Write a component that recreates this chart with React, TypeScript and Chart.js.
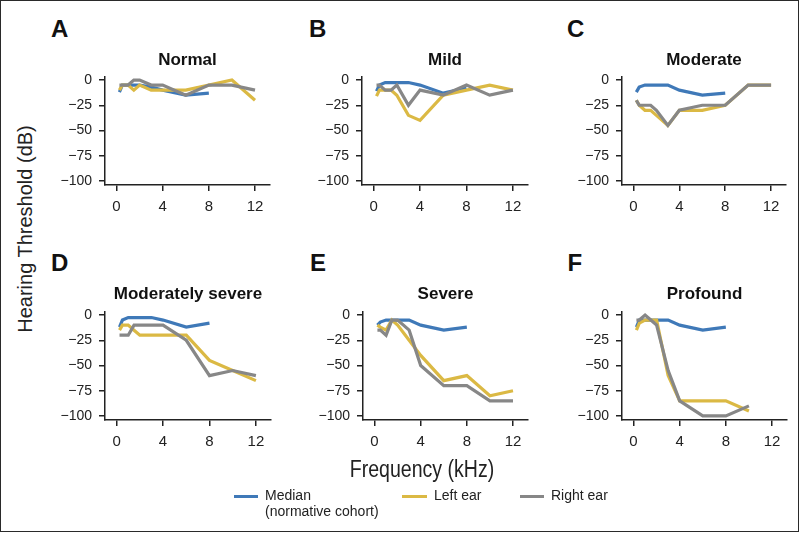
import React, { useEffect, useRef } from "react";
import { Chart, registerables } from "chart.js";

Chart.register(...registerables);

// ---- data ----
const FREQ = [0.25, 0.5, 1, 1.5, 2, 3, 4, 6, 8, 10, 12];
const MEDIAN_FREQ = [0.25, 0.5, 1, 2, 3, 4, 6, 8];
const X_TICKS = [0, 4, 8, 12];
const Y_TICKS = [0, -25, -50, -75, -100];

const PANEL_LETTERS = ["A", "B", "C", "D", "E", "F"];
const PANEL_TITLES = ["Normal", "Mild", "Moderate", "Moderately severe", "Severe", "Profound"];

const normalMedian = [-12, -5, -5, -5, -7, -10, -15, -13];
const normalLeft = [-10, -5, -5, -10, -5, -10, -10, -10, -5, 0, -20];
const normalRight = [-5, -5, -5, 0, 0, -5, -5, -15, -5, -5, -10];

const mildMedian = [-11, -5, -2.5, -2.5, -2.5, -5, -13, -8];
const mildLeft = [-16, -10, -10, -10, -15, -35, -40, -15, -10, -5, -10];
const mildRight = [-5, -5, -10, -10, -5, -25, -10, -15, -5, -15, -10];

const moderateMedian = [-12, -7, -5, -5, -5, -10, -15, -13];
const moderateLeft = [-20, -25, -30, -30, -35, -45, -30, -30, -25, -5, -5];
const moderateRight = [-20, -25, -25, -25, -30, -45, -30, -25, -25, -5, -5];

const modSevereMedian = [-12, -5, -2.5, -2.5, -2.5, -5, -12, -8];
const modSevereLeft = [-15, -10, -10, -15, -20, -20, -20, -20, -45, -55, -65];
const modSevereRight = [-20, -20, -20, -10, -10, -10, -10, -25, -60, -55, -60];

const severeMedian = [-10, -7, -5, -5, -5, -10, -15, -12];
const severeLeft = [-10, -12, -15, -5, -10, -25, -40, -65, -60, -80, -75];
const severeRight = [-15, -15, -20, -5, -5, -15, -50, -70, -70, -85, -85];

const profoundMedian = [-12, -5, -5, -5, -5, -10, -15, -12];
const profoundLeft = [-15, -8, -5, -5, -5, -60, -85, -85, -85, -95, null];
const profoundRight = [-5, -5, 0, -5, -10, -55, -85, -100, -100, -90, null];

const MEDIANS = [normalMedian, mildMedian, moderateMedian, modSevereMedian, severeMedian, profoundMedian];
const LEFTS = [normalLeft, mildLeft, moderateLeft, modSevereLeft, severeLeft, profoundLeft];
const RIGHTS = [normalRight, mildRight, moderateRight, modSevereRight, severeRight, profoundRight];

const LEGEND_LABELS = ["Median", "Left ear", "Right ear"];

// ---- style / layout ----
const C_MEDIAN = "#3f79b8";
const C_LEFT = "#dbb944";
const C_RIGHT = "#878787";
const INK = "#222";
const FONT = "'Liberation Sans', Arial, Helvetica, sans-serif";

// chart areas: left, top, right, bottom
const AREAS = [
  [104, 76, 269, 184],
  [361, 76, 527, 184],
  [621, 76, 785, 184],
  [104, 311, 270, 419],
  [362, 311, 527, 419],
  [621, 311, 786, 419],
];
const LETTER_POS = [
  [50, 15.7],
  [308, 15.7],
  [566, 15.7],
  [50, 249.7],
  [309, 249.7],
  [566.5, 249.7],
];

const YW = 60;
const XH = 40;
const PT = 20;
const PR = 12;

function pts(xs: number[], ys: (number | null)[]) {
  const out: { x: number; y: number }[] = [];
  xs.forEach((x, i) => {
    const y = ys[i];
    if (y !== null && y !== undefined) out.push({ x, y });
  });
  return out;
}

function fmt(v: number) {
  return v < 0 ? "\u2212" + Math.abs(v) : String(v);
}

function Panel({ idx }: { idx: number }) {
  const ref = useRef<HTMLCanvasElement | null>(null);
  const [L, T, R, B] = AREAS[idx];
  const w = R - L + YW + PR;
  const h = B - T + PT + XH;

  useEffect(() => {
    if (!ref.current) return;
    const axisCommon = {
      grid: {
        display: true,
        drawOnChartArea: false,
        drawTicks: true,
        tickLength: 6,
        color: INK,
        lineWidth: 1.5,
      },
      border: { display: true, color: INK, width: 1.5 },
    };
    const chart = new Chart(ref.current, {
      type: "line",
      data: {
        datasets: [
          {
            label: "Right ear",
            data: pts(FREQ, RIGHTS[idx]),
            borderColor: C_RIGHT,
            borderWidth: 3.2,
            pointRadius: 0,
            tension: 0,
            fill: false,
          },
          {
            label: "Left ear",
            data: pts(FREQ, LEFTS[idx]),
            borderColor: C_LEFT,
            borderWidth: 3.2,
            pointRadius: 0,
            tension: 0,
            fill: false,
          },
          {
            label: "Median",
            data: pts(MEDIAN_FREQ, MEDIANS[idx]),
            borderColor: C_MEDIAN,
            borderWidth: 3.2,
            pointRadius: 0,
            tension: 0,
            fill: false,
          },
        ],
      },
      options: {
        animation: false,
        responsive: false,
        maintainAspectRatio: false,
        events: [],
        layout: { padding: { left: 0, top: PT, right: PR, bottom: 0 } },
        plugins: {
          legend: { display: false },
          tooltip: { enabled: false },
          title: { display: false },
        },
        scales: {
          x: {
            type: "linear",
            min: -1,
            max: 13.3,
            ...axisCommon,
            afterBuildTicks: (s: any) => {
              s.ticks = X_TICKS.map((v) => ({ value: v }));
            },
            afterFit: (s: any) => {
              s.height = XH;
            },
            ticks: {
              color: INK,
              font: { size: 15, family: FONT },
              padding: 7,
              maxRotation: 0,
              autoSkip: false,
              callback: (v: any) => String(v),
            },
          },
          y: {
            type: "linear",
            min: -104,
            max: 3,
            ...axisCommon,
            afterBuildTicks: (s: any) => {
              s.ticks = Y_TICKS.map((v) => ({ value: v }));
            },
            afterFit: (s: any) => {
              s.width = YW;
            },
            ticks: {
              color: INK,
              font: { size: 14, family: FONT },
              padding: 7,
              autoSkip: false,
              callback: (v: any) => fmt(Number(v)),
            },
          },
        },
      } as any,
    });
    return () => chart.destroy();
  }, [idx]);

  return (
    <canvas
      ref={ref}
      width={w}
      height={h}
      style={{ position: "absolute", left: L - YW, top: T - PT, width: w, height: h }}
    />
  );
}

export default function App() {
  const text: React.CSSProperties = { position: "absolute", fontFamily: FONT, color: INK, whiteSpace: "nowrap" };
  return (
    <div
      style={{
        position: "absolute",
        left: 0,
        top: 0,
        width: 799,
        height: 532,
        boxSizing: "border-box",
        border: "1.5px solid #2a2a2a",
        background: "#fff",
        overflow: "hidden",
      }}
    >
      {AREAS.map((a, i) => (
        <Panel key={i} idx={i} />
      ))}
      {PANEL_LETTERS.map((l, i) => (
        <div
          key={"l" + i}
          style={{ ...text, left: LETTER_POS[i][0], top: LETTER_POS[i][1], fontSize: 24, lineHeight: "24px", fontWeight: "bold", color: "#111" }}
        >
          {l}
        </div>
      ))}
      {PANEL_TITLES.map((t, i) => (
        <div
          key={"t" + i}
          style={{
            ...text,
            left: (AREAS[i][0] + AREAS[i][2]) / 2,
            top: i < 3 ? 49.6 : 283.6,
            transform: "translateX(-50%)",
            fontSize: 17,
            lineHeight: "17px",
            fontWeight: "bold",
            color: "#111",
          }}
        >
          {t}
        </div>
      ))}
      <div
        style={{
          ...text,
          left: 23.5,
          top: 228,
          fontSize: 20,
          lineHeight: "20px",
          transform: "translate(-50%, -50%) rotate(-90deg)",
        }}
      >
        Hearing Threshold (dB)
      </div>
      <div
        style={{
          ...text,
          left: 421,
          top: 468,
          fontSize: 23,
          lineHeight: "23px",
          transform: "translate(-50%, -50%) scale(0.85, 1)",
        }}
      >
        Frequency (kHz)
      </div>
      {/* legend */}
      <div style={{ position: "absolute", left: 233, top: 493.5, width: 24, height: 3, background: C_MEDIAN }} />
      <div style={{ ...text, left: 264, top: 486, fontSize: 14, lineHeight: "16px" }}>
        {LEGEND_LABELS[0]}
        <br />
        (normative cohort)
      </div>
      <div style={{ position: "absolute", left: 401, top: 493.5, width: 25, height: 3, background: C_LEFT }} />
      <div style={{ ...text, left: 433, top: 486, fontSize: 14, lineHeight: "16px" }}>{LEGEND_LABELS[1]}</div>
      <div style={{ position: "absolute", left: 519, top: 493.5, width: 24, height: 3, background: C_RIGHT }} />
      <div style={{ ...text, left: 550, top: 486, fontSize: 14, lineHeight: "16px" }}>{LEGEND_LABELS[2]}</div>
    </div>
  );
}
